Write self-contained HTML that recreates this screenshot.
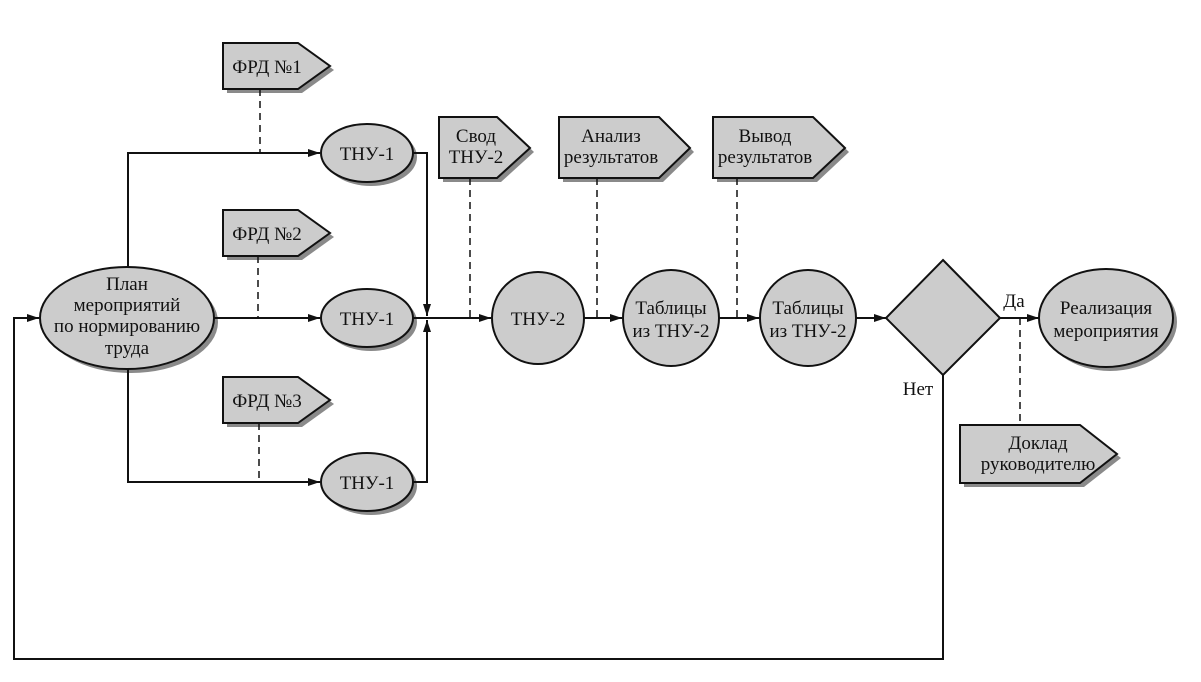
<!DOCTYPE html>
<html><head><meta charset="utf-8"><style>
html,body{margin:0;padding:0;background:#fff;}
svg{display:block;}
text{font-family:"Liberation Serif",serif;font-size:19px;fill:#111;text-anchor:middle;}
</style></head><body>
<svg width="1201" height="682" viewBox="0 0 1201 682" xmlns="http://www.w3.org/2000/svg">
<defs>
<marker id="a" markerWidth="12" markerHeight="8" refX="12" refY="4" orient="auto" markerUnits="userSpaceOnUse">
<path d="M0,0 L12,4 L0,8 Z" fill="#111"/></marker>
</defs>
<g fill="#8a8a8a">
<!-- shadows -->
<ellipse cx="131" cy="322" rx="87" ry="51"/>
<ellipse cx="371" cy="157" rx="46" ry="29"/>
<ellipse cx="371" cy="322" rx="46" ry="29"/>
<ellipse cx="371" cy="486" rx="46" ry="29"/>
<polygon points="227,47 302,47 334,70 302,93 227,93"/>
<polygon points="227,214 302,214 334,237 302,260 227,260"/>
<polygon points="227,381 302,381 334,404 302,427 227,427"/>
<polygon points="443,121 501,121 534,152 501,182 443,182"/>
<polygon points="563,121 663,121 694,152 663,182 563,182"/>
<polygon points="717,121 817,121 849,152 817,182 717,182"/>
<polygon points="964,429 1084,429 1121,458 1084,487 964,487"/>
<ellipse cx="1110" cy="322" rx="67" ry="49"/>
</g>
<g stroke="#111" stroke-width="2" fill="none">
<!-- connectors -->
<polyline points="128,267 128,153 320,153" marker-end="url(#a)"/>
<line x1="214" y1="318" x2="320" y2="318" marker-end="url(#a)"/>
<polyline points="128,369 128,482 320,482" marker-end="url(#a)"/>
<polyline points="413,153 427,153 427,316" marker-end="url(#a)"/>
<polyline points="413,482 427,482 427,320" marker-end="url(#a)"/>
<line x1="413" y1="318" x2="491" y2="318" marker-end="url(#a)"/>
<line x1="584" y1="318" x2="622" y2="318" marker-end="url(#a)"/>
<line x1="719" y1="318" x2="759" y2="318" marker-end="url(#a)"/>
<line x1="856" y1="318" x2="886" y2="318" marker-end="url(#a)"/>
<line x1="1000" y1="318" x2="1039" y2="318" marker-end="url(#a)"/>
<polyline points="943,375 943,659 14,659 14,318 39,318" marker-end="url(#a)"/>
</g>
<g stroke="#111" stroke-width="1.5" stroke-dasharray="7,5">
<line x1="260" y1="89" x2="260" y2="153"/>
<line x1="258" y1="256" x2="258" y2="318"/>
<line x1="259" y1="423" x2="259" y2="482"/>
<line x1="470" y1="178" x2="470" y2="318"/>
<line x1="597" y1="178" x2="597" y2="318"/>
<line x1="737" y1="178" x2="737" y2="318"/>
<line x1="1020" y1="318" x2="1020" y2="425"/>
</g>
<g fill="#cccccc" stroke="#111" stroke-width="2">
<ellipse cx="127" cy="318" rx="87" ry="51"/>
<ellipse cx="367" cy="153" rx="46" ry="29"/>
<ellipse cx="367" cy="318" rx="46" ry="29"/>
<ellipse cx="367" cy="482" rx="46" ry="29"/>
<polygon points="223,43 298,43 330,66 298,89 223,89"/>
<polygon points="223,210 298,210 330,233 298,256 223,256"/>
<polygon points="223,377 298,377 330,400 298,423 223,423"/>
<polygon points="439,117 497,117 530,148 497,178 439,178"/>
<polygon points="559,117 659,117 690,148 659,178 559,178"/>
<polygon points="713,117 813,117 845,148 813,178 713,178"/>
<polygon points="960,425 1080,425 1117,454 1080,483 960,483"/>
<circle cx="538" cy="318" r="46"/>
<circle cx="671" cy="318" r="48"/>
<circle cx="808" cy="318" r="48"/>
<polygon points="943,260 1000,318 943,375 886,318"/>
<ellipse cx="1106" cy="318" rx="67" ry="49"/>
</g>
<text x="127" y="290">План</text>
<text x="127" y="311">мероприятий</text>
<text x="127" y="332">по нормированию</text>
<text x="127" y="354">труда</text>
<text x="367" y="160">ТНУ-1</text>
<text x="367" y="325">ТНУ-1</text>
<text x="367" y="489">ТНУ-1</text>
<text x="267" y="73">ФРД №1</text>
<text x="267" y="240">ФРД №2</text>
<text x="267" y="407">ФРД №3</text>
<text x="476" y="142">Свод</text>
<text x="476" y="163">ТНУ-2</text>
<text x="611" y="142">Анализ</text>
<text x="611" y="163">результатов</text>
<text x="765" y="142">Вывод</text>
<text x="765" y="163">результатов</text>
<text x="538" y="325">ТНУ-2</text>
<text x="671" y="314">Таблицы</text>
<text x="671" y="337">из ТНУ-2</text>
<text x="808" y="314">Таблицы</text>
<text x="808" y="337">из ТНУ-2</text>
<text x="1014" y="307">Да</text>
<text x="918" y="395">Нет</text>
<text x="1106" y="314">Реализация</text>
<text x="1106" y="337">мероприятия</text>
<text x="1038" y="449">Доклад</text>
<text x="1038" y="470">руководителю</text>
</svg>
</body></html>
